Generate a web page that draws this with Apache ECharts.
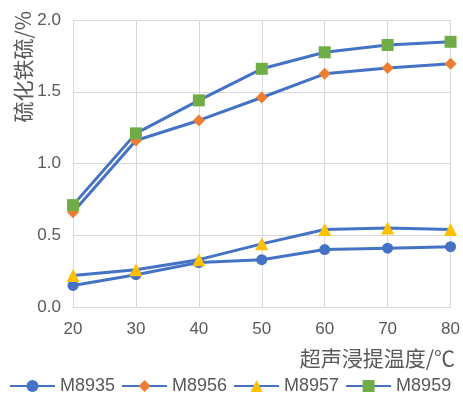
<!DOCTYPE html>
<html><head><meta charset="utf-8">
<script src="https://cdn.jsdelivr.net/npm/echarts@6/dist/echarts.min.js"></script>
<style>html,body{margin:0;padding:0;background:#fff}#c{width:463px;height:393px}</style>
</head><body><div id="c"></div>
<script>
const categories = ['20','30','40','50','60','70','80'];
const yTicks = ['0.0','0.5','1.0','1.5','2.0'];
const M8935 = [0.15, 0.225, 0.31, 0.33, 0.40, 0.41, 0.42];
const M8956 = [0.66, 1.16, 1.30, 1.46, 1.625, 1.665, 1.695];
const M8957 = [0.22, 0.26, 0.33, 0.44, 0.54, 0.55, 0.54];
const M8959 = [0.71, 1.21, 1.44, 1.66, 1.775, 1.826, 1.848];
const seriesNames = ['M8935','M8956','M8957','M8959'];
const yName = '硫化铁硫/%';
const xName = '超声浸提温度/℃';

const lineBlue = '#4472C4';
const txt = '#595959';
const font = 'Liberation Sans, Arial, sans-serif';
const cjk = '"Noto Sans CJK SC", sans-serif';
function mk(name, data, symbol, color, size) {
  return {name, type:'line', data, symbol, symbolSize:size, showSymbol:true,
    lineStyle:{color:lineBlue, width:3}, itemStyle:{color}, z: 3, animation:false};
}
const chart = echarts.init(document.getElementById('c'));
chart.setOption({
  animation:false,
  grid:{left:73, right:10, top:20, bottom:86},
  xAxis:{type:'category', data:categories, boundaryGap:false,
    axisLine:{show:true, lineStyle:{color:'#D9D9D9', width:1}},
    axisTick:{show:false},
    axisLabel:{color:txt, fontSize:17, fontFamily:font, margin:14},
    splitLine:{show:true, lineStyle:{color:'#D9D9D9', width:1}}},
  yAxis:{type:'value', min:0, max:2, interval:0.5,
    axisLine:{show:false}, axisTick:{show:false},
    axisLabel:{color:txt, fontSize:17, fontFamily:font, margin:12,
      formatter:(v)=>yTicks[Math.round(v/0.5)]},
    splitLine:{show:true, lineStyle:{color:'#D9D9D9', width:1}}},
  legend:{left:4, top:372, itemWidth:45, itemHeight:15, itemGap:6,
    textStyle:{color:txt, fontSize:18, fontFamily:font, padding:[0,0,0,0]},
    data:seriesNames},
  series:[
    mk(seriesNames[0], M8935, 'circle', '#4472C4', 11),
    mk(seriesNames[1], M8956, 'diamond', '#ED7D31', 12),
    mk(seriesNames[2], M8957, 'triangle', '#FFC000', 13),
    mk(seriesNames[3], M8959, 'rect', '#70AD47', 12)
  ],
  graphic:[
    {type:'text', x:455, y:358, style:{text:xName, fill:txt, font:'21px '+cjk, align:'right', verticalAlign:'middle'}},
    {type:'text', x:23, y:11, rotation:Math.PI/2, style:{text:yName, fill:txt, font:'21px '+cjk, align:'right', verticalAlign:'middle'}}
  ]
});
</script></body></html>
